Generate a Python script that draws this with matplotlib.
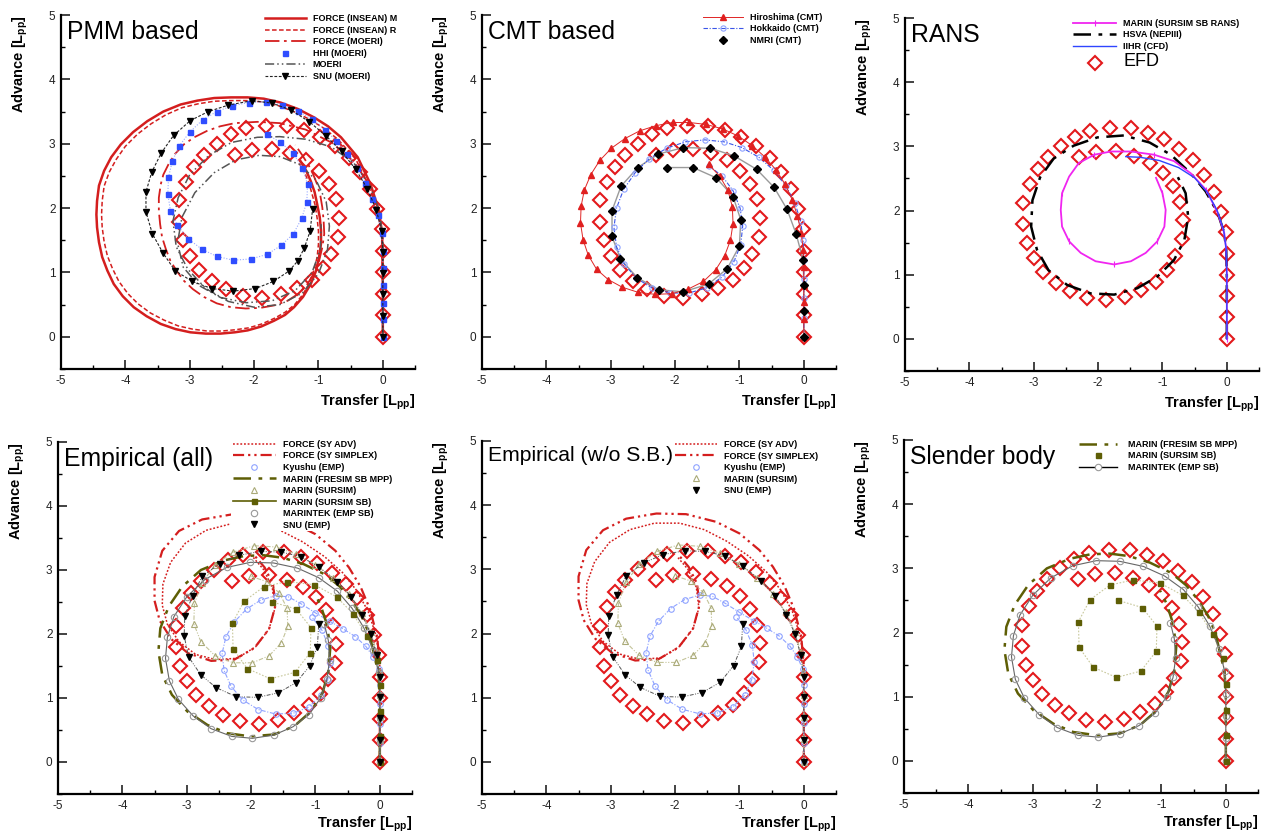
import numpy as np
import matplotlib
matplotlib.use("Agg")
import matplotlib.pyplot as plt
from matplotlib.lines import Line2D
from matplotlib.ticker import MultipleLocator

plt.rcParams['font.family'] = ['Liberation Sans', 'DejaVu Sans']
plt.rcParams['mathtext.fontset'] = 'custom'
plt.rcParams['mathtext.rm'] = 'Liberation Sans'
plt.rcParams['mathtext.bf'] = 'Liberation Sans:bold'
plt.rcParams['mathtext.it'] = 'Liberation Sans:italic'
plt.rcParams['axes.unicode_minus'] = False

# ---------------------------------------------------------------------------
# Turning-circle trajectories (transfer, advance) in ship lengths
# ---------------------------------------------------------------------------
EFD = [(0.00, 0.00), (0.00, 0.34), (0.00, 0.67), (0.00, 1.00), (0.00, 1.33), (-0.02, 1.67),
       (-0.09, 1.98), (-0.20, 2.29), (-0.36, 2.56), (-0.53, 2.78), (-0.74, 2.96), (-0.98, 3.11),
       (-1.22, 3.21), (-1.49, 3.28), (-1.81, 3.28), (-2.12, 3.24), (-2.36, 3.15), (-2.58, 3.00),
       (-2.78, 2.83), (-2.94, 2.64), (-3.06, 2.41), (-3.16, 2.12), (-3.16, 1.79), (-3.11, 1.50),
       (-3.00, 1.26), (-2.85, 1.04), (-2.66, 0.87), (-2.44, 0.74), (-2.18, 0.64), (-1.87, 0.60),
       (-1.58, 0.66), (-1.33, 0.76), (-1.10, 0.89), (-0.93, 1.07), (-0.80, 1.29), (-0.70, 1.55),
       (-0.68, 1.85), (-0.72, 2.14), (-0.84, 2.38), (-0.99, 2.58), (-1.20, 2.74), (-1.44, 2.85),
       (-1.72, 2.92), (-2.03, 2.91), (-2.30, 2.83)]

# PMM based
FORCE_INSEAN_M = [(0, 0), (0, 0.8), (-0.01, 1.6), (-0.06, 1.96), (-0.19, 2.37), (-0.39, 2.79),
                  (-0.65, 3.10), (-0.85, 3.27), (-1.07, 3.41), (-1.32, 3.54), (-1.59, 3.64),
                  (-1.85, 3.70), (-2.10, 3.72), (-2.36, 3.72), (-2.62, 3.71), (-2.88, 3.67),
                  (-3.14, 3.61), (-3.41, 3.50), (-3.66, 3.35), (-3.88, 3.18), (-4.07, 2.99),
                  (-4.22, 2.79), (-4.33, 2.58), (-4.41, 2.35), (-4.44, 2.11), (-4.45, 1.90),
                  (-4.44, 1.70), (-4.41, 1.47), (-4.36, 1.24), (-4.28, 1.03), (-4.18, 0.82),
                  (-4.04, 0.63), (-3.87, 0.46), (-3.67, 0.32), (-3.45, 0.20), (-3.22, 0.12),
                  (-2.99, 0.07), (-2.75, 0.05), (-2.52, 0.05), (-2.30, 0.07), (-2.10, 0.10),
                  (-1.89, 0.16), (-1.69, 0.25), (-1.52, 0.34), (-1.38, 0.46), (-1.24, 0.62),
                  (-1.12, 0.82), (-1.04, 1.02), (-0.99, 1.24), (-0.96, 1.45), (-0.96, 1.65),
                  (-0.98, 1.86), (-1.02, 2.06), (-1.06, 2.25), (-1.12, 2.42), (-1.19, 2.58),
                  (-1.28, 2.73)]
FORCE_INSEAN_R = [(0, 0), (0, 0.8), (-0.02, 1.6), (-0.08, 1.95), (-0.22, 2.35), (-0.42, 2.76),
                  (-0.70, 3.07), (-0.90, 3.23), (-1.12, 3.37), (-1.36, 3.49), (-1.62, 3.59),
                  (-1.87, 3.65), (-2.12, 3.67), (-2.37, 3.67), (-2.62, 3.66), (-2.87, 3.62),
                  (-3.12, 3.56), (-3.37, 3.45), (-3.60, 3.31), (-3.81, 3.15), (-4.00, 2.96),
                  (-4.14, 2.76), (-4.25, 2.56), (-4.33, 2.34), (-4.36, 2.11), (-4.37, 1.90),
                  (-4.36, 1.70), (-4.33, 1.48), (-4.28, 1.26), (-4.20, 1.06), (-4.10, 0.86),
                  (-3.96, 0.67), (-3.80, 0.51), (-3.61, 0.37), (-3.40, 0.26), (-3.18, 0.17),
                  (-2.96, 0.12), (-2.73, 0.09), (-2.50, 0.09), (-2.29, 0.11), (-2.08, 0.14),
                  (-1.88, 0.20), (-1.68, 0.29), (-1.52, 0.38), (-1.37, 0.50), (-1.24, 0.66),
                  (-1.14, 0.84), (-1.07, 1.04), (-1.02, 1.24), (-1.00, 1.44), (-1.00, 1.64),
                  (-1.02, 1.84), (-1.05, 2.04), (-1.10, 2.22), (-1.15, 2.40), (-1.22, 2.56),
                  (-1.30, 2.70)]
FORCE_MOERI = [(0, 0), (0, 0.8), (0, 1.5), (-0.06, 1.95), (-0.20, 2.35), (-0.45, 2.72),
               (-0.80, 3.02), (-1.20, 3.22), (-1.60, 3.32), (-1.95, 3.34), (-2.30, 3.32),
               (-2.53, 3.27), (-2.73, 3.20), (-2.93, 3.10), (-3.09, 2.99), (-3.23, 2.84),
               (-3.33, 2.68), (-3.41, 2.52), (-3.45, 2.37), (-3.48, 2.16), (-3.48, 1.96),
               (-3.46, 1.75), (-3.43, 1.55), (-3.37, 1.36), (-3.30, 1.18), (-3.20, 1.02),
               (-3.09, 0.87), (-2.95, 0.74), (-2.78, 0.62), (-2.58, 0.52), (-2.36, 0.46),
               (-2.13, 0.44), (-1.90, 0.45), (-1.68, 0.49), (-1.48, 0.56), (-1.31, 0.67),
               (-1.17, 0.82), (-1.07, 0.99), (-0.99, 1.18), (-0.94, 1.39), (-0.91, 1.60),
               (-0.92, 1.81), (-0.94, 2.01), (-0.97, 2.19), (-1.02, 2.37), (-1.08, 2.52),
               (-1.15, 2.66), (-1.25, 2.82), (-1.36, 2.98)]
HHI_MOERI = [(0, 0), (0, 0.27), (0, 0.53), (0, 0.80), (0, 1.07), (0, 1.34), (-0.02, 1.62),
             (-0.08, 1.89), (-0.17, 2.14), (-0.27, 2.39), (-0.40, 2.62), (-0.55, 2.84),
             (-0.72, 3.04), (-0.90, 3.22), (-1.10, 3.38), (-1.32, 3.51), (-1.56, 3.60),
             (-1.82, 3.65), (-2.08, 3.64), (-2.34, 3.59), (-2.58, 3.50), (-2.80, 3.37),
             (-3.00, 3.18), (-3.16, 2.97), (-3.27, 2.73), (-3.33, 2.48), (-3.34, 2.22),
             (-3.30, 1.96), (-3.19, 1.73), (-3.02, 1.52), (-2.81, 1.36), (-2.58, 1.25),
             (-2.32, 1.19), (-2.05, 1.21), (-1.80, 1.28), (-1.58, 1.42), (-1.39, 1.60),
             (-1.26, 1.84), (-1.18, 2.10), (-1.17, 2.37), (-1.25, 2.63), (-1.40, 2.86),
             (-1.59, 3.02), (-1.80, 3.15)]
MOERI = [(0, 0), (0, 0.8), (0, 1.5), (-0.05, 1.95), (-0.20, 2.35), (-0.45, 2.70), (-0.80, 2.95),
         (-1.20, 3.07), (-1.60, 3.11), (-1.95, 3.10), (-2.35, 3.02), (-2.70, 2.82), (-3.00, 2.52),
         (-3.18, 2.16), (-3.26, 1.80), (-3.21, 1.40), (-3.03, 1.05), (-2.75, 0.75), (-2.40, 0.55),
         (-2.00, 0.46), (-1.60, 0.50), (-1.25, 0.68), (-1.00, 0.98), (-0.86, 1.35), (-0.83, 1.72),
         (-0.88, 2.10), (-1.04, 2.44), (-1.30, 2.68), (-1.60, 2.80), (-1.92, 2.82), (-2.28, 2.75),
         (-2.62, 2.55), (-2.92, 2.24), (-3.12, 1.86), (-3.19, 1.46), (-3.10, 1.08), (-2.86, 0.80),
         (-2.52, 0.61), (-2.12, 0.53), (-1.72, 0.56), (-1.36, 0.72), (-1.10, 1.00), (-0.97, 1.36),
         (-0.96, 1.75)]
SNU_MOERI = [(0, 0), (0, 0.33), (0, 0.66), (0, 0.99), (0, 1.32), (-0.02, 1.65), (-0.10, 1.97),
             (-0.24, 2.30), (-0.42, 2.60), (-0.64, 2.88), (-0.88, 3.12), (-1.14, 3.34),
             (-1.42, 3.52), (-1.72, 3.63), (-2.03, 3.67), (-2.40, 3.60), (-2.71, 3.50),
             (-2.99, 3.36), (-3.25, 3.13), (-3.44, 2.86), (-3.59, 2.56), (-3.68, 2.25),
             (-3.68, 1.94), (-3.58, 1.60), (-3.42, 1.31), (-3.23, 1.03), (-2.96, 0.86),
             (-2.66, 0.75), (-2.32, 0.71), (-1.98, 0.75), (-1.70, 0.86), (-1.46, 1.02),
             (-1.32, 1.18), (-1.22, 1.38), (-1.13, 1.64), (-1.09, 1.99)]

# CMT based
HIROSHIMA = [(0, 0), (0, 0.27), (0, 0.54), (0, 0.81), (0, 1.08), (-0.01, 1.35), (-0.04, 1.62),
             (-0.10, 1.88), (-0.18, 2.13), (-0.29, 2.37), (-0.43, 2.59), (-0.60, 2.79),
             (-0.80, 2.97), (-1.02, 3.12), (-1.26, 3.23), (-1.52, 3.30), (-1.78, 3.33),
             (-2.04, 3.33), (-2.30, 3.28), (-2.55, 3.20), (-2.78, 3.08), (-2.99, 2.93),
             (-3.17, 2.74), (-3.31, 2.52), (-3.41, 2.28), (-3.46, 2.03), (-3.47, 1.77),
             (-3.43, 1.51), (-3.35, 1.27), (-3.22, 1.05), (-3.04, 0.89), (-2.82, 0.77),
             (-2.57, 0.69), (-2.31, 0.66), (-2.05, 0.67), (-1.80, 0.74), (-1.56, 0.86),
             (-1.37, 1.04), (-1.23, 1.26), (-1.14, 1.50), (-1.10, 1.76), (-1.11, 2.02),
             (-1.18, 2.28), (-1.31, 2.50), (-1.48, 2.68)]
HOKKAIDO = [(0, 0), (0, 0.3), (0, 0.6), (0, 0.9), (0, 1.2), (-0.01, 1.5), (-0.05, 1.8),
            (-0.14, 2.08), (-0.28, 2.35), (-0.47, 2.59), (-0.70, 2.79), (-0.96, 2.94),
            (-1.24, 3.03), (-1.54, 3.06), (-1.84, 3.03), (-2.13, 2.93), (-2.40, 2.77),
            (-2.62, 2.55), (-2.80, 2.29), (-2.91, 2.00), (-2.95, 1.70), (-2.91, 1.40),
            (-2.79, 1.13), (-2.60, 0.91), (-2.36, 0.76), (-2.08, 0.68), (-1.79, 0.68),
            (-1.51, 0.76), (-1.27, 0.93), (-1.09, 1.16), (-0.98, 1.43), (-0.95, 1.72),
            (-0.99, 2.00), (-1.10, 2.27), (-1.27, 2.50), (-1.48, 2.66)]
NMRI = [(0, 0), (0, 0.40), (0, 0.80), (-0.01, 1.19), (-0.12, 1.60), (-0.26, 1.98), (-0.46, 2.32),
        (-0.73, 2.60), (-1.08, 2.81), (-1.45, 2.93), (-1.87, 2.94), (-2.26, 2.84), (-2.58, 2.63),
        (-2.84, 2.34), (-2.98, 1.96), (-2.98, 1.56), (-2.85, 1.21), (-2.59, 0.92), (-2.25, 0.73),
        (-1.87, 0.70), (-1.48, 0.82), (-1.19, 1.06), (-1.00, 1.41), (-0.98, 1.82), (-1.10, 2.18),
        (-1.36, 2.47), (-1.72, 2.63), (-2.12, 2.63)]

# RANS
MARIN_RANS = [(0, 0), (0, 0.5), (0, 1.0), (-0.01, 1.40), (-0.04, 1.65), (-0.14, 1.96),
              (-0.32, 2.32), (-0.56, 2.58), (-0.82, 2.77), (-1.13, 2.87), (-1.49, 2.92),
              (-1.80, 2.92), (-2.06, 2.87), (-2.30, 2.74), (-2.45, 2.53), (-2.56, 2.27),
              (-2.58, 2.01), (-2.56, 1.75), (-2.45, 1.52), (-2.27, 1.34), (-2.04, 1.21),
              (-1.75, 1.16), (-1.49, 1.21), (-1.26, 1.34), (-1.08, 1.52), (-0.97, 1.75),
              (-0.95, 2.01), (-1.00, 2.27), (-1.10, 2.51)]
HSVA = [(0, 0), (0, 0.5), (0, 1.0), (-0.01, 1.40), (-0.04, 1.65), (-0.14, 1.96), (-0.33, 2.30),
        (-0.56, 2.58), (-0.87, 2.87), (-1.20, 3.06), (-1.60, 3.17), (-2.01, 3.14), (-2.38, 3.01),
        (-2.69, 2.81), (-2.90, 2.52), (-3.02, 2.16), (-3.04, 1.75), (-2.95, 1.39), (-2.77, 1.07),
        (-2.48, 0.84), (-2.12, 0.71), (-1.75, 0.69), (-1.39, 0.79), (-1.08, 0.97), (-0.82, 1.23),
        (-0.66, 1.54), (-0.60, 1.90), (-0.64, 2.27), (-0.76, 2.52)]
IIHR = [(0, 0), (0, 0.5), (0, 1.0), (-0.01, 1.40), (-0.05, 1.70), (-0.15, 2.00), (-0.30, 2.28),
        (-0.50, 2.51), (-0.75, 2.67), (-1.05, 2.78), (-1.35, 2.83), (-1.57, 2.84)]

# Empirical / slender body
FORCE_SY_ADV = [(0, 0), (0, 0.8), (0, 1.5), (-0.05, 1.95), (-0.18, 2.35), (-0.36, 2.68),
                (-0.58, 2.96), (-0.86, 3.21), (-1.20, 3.44), (-1.55, 3.62), (-1.93, 3.72),
                (-2.32, 3.72), (-2.70, 3.62), (-3.02, 3.42), (-3.25, 3.12), (-3.37, 2.78),
                (-3.38, 2.45), (-3.30, 2.15), (-3.12, 1.88), (-2.86, 1.68), (-2.55, 1.60),
                (-2.22, 1.62), (-1.93, 1.80), (-1.72, 2.08), (-1.63, 2.40), (-1.67, 2.72),
                (-1.80, 3.00), (-1.97, 3.20)]
FORCE_SY_SIMPLEX = [(0, 0), (0, 0.8), (0, 1.5), (-0.04, 1.95), (-0.15, 2.38), (-0.30, 2.74),
                    (-0.48, 3.04), (-0.69, 3.30), (-1.00, 3.56), (-1.36, 3.74), (-1.83, 3.86),
                    (-2.29, 3.87), (-2.76, 3.79), (-3.12, 3.61), (-3.38, 3.30), (-3.50, 2.89),
                    (-3.50, 2.52), (-3.42, 2.21), (-3.24, 1.92), (-2.98, 1.70), (-2.62, 1.58),
                    (-2.26, 1.60), (-1.95, 1.78), (-1.72, 2.08), (-1.62, 2.45), (-1.66, 2.78),
                    (-1.79, 3.04), (-1.96, 3.24)]
KYUSHU = [(0, 0), (0, 0.3), (0, 0.6), (0, 0.9), (0, 1.2), (-0.02, 1.45), (-0.10, 1.64),
          (-0.22, 1.81), (-0.38, 1.96), (-0.57, 2.08), (-0.78, 2.20), (-1.00, 2.33),
          (-1.22, 2.47), (-1.42, 2.58), (-1.62, 2.60), (-1.85, 2.53), (-2.07, 2.39),
          (-2.26, 2.19), (-2.39, 1.96), (-2.45, 1.70), (-2.42, 1.43), (-2.31, 1.18),
          (-2.13, 0.97), (-1.89, 0.82), (-1.62, 0.75), (-1.35, 0.76), (-1.10, 0.86),
          (-0.92, 1.04), (-0.81, 1.28), (-0.77, 1.55), (-0.80, 1.82), (-0.90, 2.06),
          (-1.05, 2.26)]
MARIN_FRESIM = [(0, 0), (0, 0.5), (0, 1.0), (-0.02, 1.40), (-0.09, 1.68), (-0.16, 1.99),
                (-0.28, 2.27), (-0.44, 2.52), (-0.62, 2.74), (-0.85, 2.93), (-1.18, 3.09),
                (-1.50, 3.19), (-1.80, 3.23), (-2.10, 3.22), (-2.42, 3.15), (-2.78, 3.00),
                (-3.07, 2.74), (-3.28, 2.43), (-3.41, 2.09), (-3.44, 1.73), (-3.38, 1.36),
                (-3.23, 1.05), (-2.99, 0.79), (-2.68, 0.58), (-2.37, 0.45), (-2.01, 0.40),
                (-1.64, 0.43), (-1.33, 0.56), (-1.07, 0.79), (-0.89, 1.08), (-0.80, 1.41),
                (-0.77, 1.78), (-0.82, 2.14), (-0.92, 2.45), (-1.02, 2.65)]
MARIN_SURSIM = [(0, 0), (0, 0.35), (0, 0.7), (0, 1.05), (-0.01, 1.4), (-0.05, 1.72),
                (-0.14, 2.03), (-0.28, 2.33), (-0.48, 2.62), (-0.72, 2.87), (-1.00, 3.08),
                (-1.30, 3.25), (-1.62, 3.36), (-1.95, 3.38), (-2.28, 3.28), (-2.56, 3.08),
                (-2.76, 2.80), (-2.88, 2.48), (-2.89, 2.16), (-2.78, 1.88), (-2.56, 1.66),
                (-2.28, 1.55), (-1.98, 1.55), (-1.72, 1.66), (-1.53, 1.86), (-1.43, 2.12),
                (-1.44, 2.40), (-1.56, 2.64), (-1.76, 2.82), (-2.00, 2.90)]
MARIN_SURSIM_SB = [(0, 0), (0, 0.40), (0, 0.80), (0, 1.20), (-0.05, 1.60), (-0.20, 1.97),
                   (-0.42, 2.32), (-0.67, 2.58), (-1.02, 2.77), (-1.44, 2.82), (-1.80, 2.74),
                   (-2.11, 2.51), (-2.29, 2.17), (-2.28, 1.77), (-2.06, 1.46), (-1.70, 1.30),
                   (-1.32, 1.40), (-1.08, 1.71), (-1.07, 2.10), (-1.30, 2.39), (-1.67, 2.50)]
MARINTEK = [(0, 0), (0, 0.35), (0, 0.70), (0, 1.05), (-0.02, 1.40), (-0.10, 1.75), (-0.25, 2.10),
            (-0.43, 2.40), (-0.66, 2.67), (-0.95, 2.88), (-1.28, 3.03), (-1.65, 3.11),
            (-2.01, 3.12), (-2.38, 3.04), (-2.72, 2.85), (-3.00, 2.58), (-3.20, 2.27),
            (-3.30, 1.95), (-3.33, 1.62), (-3.27, 1.27), (-3.13, 0.98), (-2.90, 0.72),
            (-2.62, 0.52), (-2.30, 0.40), (-1.98, 0.37), (-1.65, 0.42), (-1.35, 0.55),
            (-1.10, 0.74), (-0.92, 1.00), (-0.82, 1.30), (-0.78, 1.60), (-0.80, 1.90),
            (-0.86, 2.15)]
SNU_EMP = [(0, 0), (0, 0.34), (0, 0.68), (0, 1.01), (0, 1.33), (-0.05, 1.67), (-0.14, 2.00),
           (-0.27, 2.29), (-0.44, 2.58), (-0.66, 2.82), (-0.95, 3.05), (-1.23, 3.21),
           (-1.53, 3.28), (-1.85, 3.29), (-2.19, 3.23), (-2.49, 3.10), (-2.76, 2.90),
           (-2.91, 2.60), (-3.03, 2.28), (-3.04, 1.97), (-2.97, 1.64), (-2.78, 1.36),
           (-2.54, 1.16), (-2.23, 1.02), (-1.90, 1.01), (-1.58, 1.08), (-1.30, 1.24),
           (-1.09, 1.50), (-0.97, 1.80), (-0.95, 2.15)]

PANEL_TITLES = ["PMM based", "CMT based", "RANS",
                "Empirical (all)", "Empirical (w/o S.B.)", "Slender body"]

# ---------------------------------------------------------------------------
# Styles
# ---------------------------------------------------------------------------
RED_EFD = '#e3191c'
RED = '#d41e1e'
OLIVE = '#5e5e05'
PALE_OLIVE = '#aaaa78'
LIGHT_BLUE = '#8fa3ff'

S = {
    'efd': dict(ls='none', marker='D', ms=6.8, mfc='none', mec=RED_EFD, mew=1.5),
    'insean_m': dict(color=RED, lw=1.8, ls='-'),
    'insean_r': dict(color=RED, lw=1.1, ls=(0, (3, 1.6))),
    'force_moeri': dict(color=RED, lw=1.3, ls=(0, (8, 2.5, 1.5, 2.5))),
    'hhi_line': dict(color='#9aaaff', lw=0.8, ls=(0, (1, 1.5))),
    'hhi_mk': dict(ls='none', marker='s', ms=3.6, color='#2f4dff', mec='#2f4dff'),
    'moeri': dict(color='#555555', lw=1.1, ls=(0, (6, 2, 1, 2, 1, 2))),
    'snu_moeri': dict(color='#222222', lw=0.8, ls=(0, (2.5, 1.5)), marker='v', ms=4.5,
                      mfc='k', mec='k'),
    'hiro': dict(color='#e02525', lw=0.7, ls='-', marker='^', ms=4.2, mfc='#e02020',
                 mec='#e02020'),
    'hokk': dict(color='#3a55e8', lw=0.8, ls=(0, (4, 1.5, 1, 1.5)), marker='o', ms=3.8,
                 mfc='none', mec=LIGHT_BLUE, mew=0.8),
    'nmri_line': dict(color='#9a9a9a', lw=1.0, ls='-'),
    'nmri_mk': dict(ls='none', marker='D', ms=3.8, color='k'),
    'rans': dict(color='#f025f0', lw=1.3, ls='-', marker='|', ms=4, mew=0.8, markevery=3),
    'hsva': dict(color='k', lw=1.8, ls=(0, (7, 3, 1.5, 3))),
    'iihr': dict(color='#2f45ff', lw=1.0, ls='-'),
    'sy_adv': dict(color=RED, lw=1.1, ls=(0, (1.2, 1.2))),
    'sy_simplex': dict(color=RED, lw=1.6, ls=(0, (5, 1.8, 1, 1.8, 1, 1.8))),
    'kyushu_line': dict(color=LIGHT_BLUE, lw=0.8, ls=(0, (4, 1.5, 1, 1.5))),
    'kyushu_mk': dict(ls='none', marker='o', ms=4, mfc='none', mec=LIGHT_BLUE, mew=0.8),
    'fresim': dict(color=OLIVE, lw=1.8, ls=(0, (7, 3, 1.5, 3))),
    'sursim_line': dict(color='#c4c49a', lw=0.8, ls=(0, (4, 1.5, 1, 1.5, 1, 1.5))),
    'sursim_mk': dict(ls='none', marker='^', ms=4.8, mfc='none', mec=PALE_OLIVE, mew=0.8),
    'sursim_sb_line': dict(color='#c8c89c', lw=0.8, ls=(0, (1.5, 1.5))),
    'sursim_sb_mk': dict(ls='none', marker='s', ms=3.6, color=OLIVE),
    'marintek_line': dict(color='#666666', lw=0.8, ls='-'),
    'marintek_mk': dict(ls='none', marker='o', ms=4.6, mfc='none', mec='#999999', mew=0.8),
    'snu_emp_line': dict(color='#555555', lw=0.7, ls=(0, (4, 1.5, 1, 1.5, 1, 1.5))),
    'snu_emp_mk': dict(ls='none', marker='v', ms=4.5, color='k'),
}

W, H = 1262, 834
fig = plt.figure(figsize=(W / 100, H / 100), dpi=100)
LEG_FS = 6.5


def axes_px(left, top, right, bottom):
    return fig.add_axes([left / W, 1 - bottom / H, (right - left) / W, (bottom - top) / H])


def setup(ax, title, xlab_y=-0.068, title_fs=17.8):
    ax.set_xlim(-5, 0.5)
    ax.set_ylim(-0.5, 5)
    for s in ('top', 'right'):
        ax.spines[s].set_visible(False)
    for s in ('left', 'bottom'):
        ax.spines[s].set_linewidth(1.6)
    ax.set_xticks(range(-5, 1))
    ax.set_yticks(range(0, 6))
    ax.xaxis.set_minor_locator(MultipleLocator(0.5))
    ax.yaxis.set_minor_locator(MultipleLocator(0.5))
    ax.tick_params(which='major', direction='in', length=6.5, width=1.2, labelsize=8.5,
                   pad=4, colors='#222222')
    ax.tick_params(which='minor', direction='in', length=3, width=1.0)
    ax.set_xlabel(r'Transfer [L$_{\mathbf{pp}}$]', fontsize=10.5, fontweight='bold', loc='right')
    ax.xaxis.set_label_coords(1.0, xlab_y)
    ax.set_ylabel(r'Advance [L$_{\mathbf{pp}}$]', fontsize=10.5, fontweight='bold', loc='top')
    ax.yaxis.set_label_coords(-0.087, 1.0)
    ax.text(0.016, 0.986, title, transform=ax.transAxes, fontsize=title_fs, va='top',
            ha='left', zorder=30)


def draw(ax, pts, key, **extra):
    x, y = zip(*pts)
    kw = dict(S[key])
    kw.update(extra)
    ax.plot(x, y, **kw)


def handle(key):
    kw = {k: v for k, v in S[key].items() if k != 'markevery'}
    return Line2D([], [], **kw)


def legend(ax, entries, x_left, y_top, hlen_px=42, tpad_px=7):
    em = LEG_FS * 100 / 72
    hs = [e[0] for e in entries]
    ls = [e[1] for e in entries]
    leg = ax.legend(hs, ls, loc='upper left', bbox_to_anchor=(x_left, y_top),
                    bbox_transform=ax.transAxes, frameon=True, fancybox=False,
                    facecolor='white', edgecolor='none', framealpha=1.0, borderpad=0.2,
                    borderaxespad=0.0, handlelength=hlen_px / em, handletextpad=tpad_px / em,
                    labelspacing=0.28, numpoints=1, prop={'weight': 'bold', 'size': LEG_FS})
    leg.set_zorder(20)
    return leg


def efd(ax):
    draw(ax, EFD, 'efd', zorder=2)


# ---------------------------------------------------------------------------
# Panel 1: PMM based
# ---------------------------------------------------------------------------
ax1 = axes_px(61, 15, 415, 369)
setup(ax1, PANEL_TITLES[0])
efd(ax1)
draw(ax1, FORCE_INSEAN_M, 'insean_m', zorder=3)
draw(ax1, FORCE_INSEAN_R, 'insean_r', zorder=3)
draw(ax1, FORCE_MOERI, 'force_moeri', zorder=3)
draw(ax1, HHI_MOERI, 'hhi_line', zorder=3)
draw(ax1, HHI_MOERI, 'hhi_mk', zorder=4)
draw(ax1, MOERI, 'moeri', zorder=3)
draw(ax1, SNU_MOERI, 'snu_moeri', zorder=4)
legend(ax1, [(handle('insean_m'), 'FORCE (INSEAN) M'),
             (handle('insean_r'), 'FORCE (INSEAN) R'),
             (handle('force_moeri'), 'FORCE (MOERI)'),
             (handle('hhi_mk'), 'HHI (MOERI)'),
             (handle('moeri'), 'MOERI'),
             (handle('snu_moeri'), 'SNU (MOERI)')], 0.570, 1.007, hlen_px=41, tpad_px=7)

# ---------------------------------------------------------------------------
# Panel 2: CMT based
# ---------------------------------------------------------------------------
ax2 = axes_px(482, 15, 836, 369)
setup(ax2, PANEL_TITLES[1])
efd(ax2)
draw(ax2, NMRI, 'nmri_line', zorder=3)
draw(ax2, HOKKAIDO, 'hokk', zorder=3)
draw(ax2, HIROSHIMA, 'hiro', zorder=4)
draw(ax2, NMRI, 'nmri_mk', zorder=5)
legend(ax2, [(handle('hiro'), 'Hiroshima (CMT)'),
             (handle('hokk'), 'Hokkaido (CMT)'),
             (handle('nmri_mk'), 'NMRI (CMT)')], 0.620, 1.011, hlen_px=40, tpad_px=7)

# ---------------------------------------------------------------------------
# Panel 3: RANS
# ---------------------------------------------------------------------------
ax3 = axes_px(905, 18, 1259, 371)
setup(ax3, PANEL_TITLES[2])
efd(ax3)
draw(ax3, HSVA, 'hsva', zorder=3)
draw(ax3, MARIN_RANS, 'rans', zorder=3)
draw(ax3, IIHR, 'iihr', zorder=4)
leg3 = legend(ax3, [(handle('rans'), 'MARIN (SURSIM SB RANS)'),
                    (handle('hsva'), 'HSVA (NEPIII)'),
                    (handle('iihr'), 'IIHR (CFD)'),
                    (handle('efd'), 'EFD')], 0.470, 1.003, hlen_px=43, tpad_px=7)
leg3.get_texts()[3].set_fontsize(13)
leg3.get_texts()[3].set_fontweight('normal')

# ---------------------------------------------------------------------------
# Panel 4: Empirical (all)
# ---------------------------------------------------------------------------
ax4 = axes_px(58, 442, 412, 794)
setup(ax4, PANEL_TITLES[3], xlab_y=-0.058)
efd(ax4)
draw(ax4, FORCE_SY_ADV, 'sy_adv', zorder=3)
draw(ax4, FORCE_SY_SIMPLEX, 'sy_simplex', zorder=3)
draw(ax4, KYUSHU, 'kyushu_line', zorder=3)
draw(ax4, KYUSHU, 'kyushu_mk', zorder=3)
draw(ax4, MARIN_FRESIM, 'fresim', zorder=3)
draw(ax4, MARIN_SURSIM, 'sursim_line', zorder=3)
draw(ax4, MARIN_SURSIM, 'sursim_mk', zorder=3)
draw(ax4, MARIN_SURSIM_SB, 'sursim_sb_line', zorder=3)
draw(ax4, MARIN_SURSIM_SB, 'sursim_sb_mk', zorder=4)
draw(ax4, MARINTEK, 'marintek_line', zorder=3)
draw(ax4, MARINTEK, 'marintek_mk', zorder=3)
draw(ax4, SNU_EMP, 'snu_emp_line', zorder=3)
draw(ax4, SNU_EMP, 'snu_emp_mk', zorder=4)
sb_handle = Line2D([], [], color=OLIVE, lw=1.2, ls='-', marker='s', ms=3.6)
legend(ax4, [(handle('sy_adv'), 'FORCE (SY ADV)'),
             (handle('sy_simplex'), 'FORCE (SY SIMPLEX)'),
             (handle('kyushu_mk'), 'Kyushu (EMP)'),
             (handle('fresim'), 'MARIN (FRESIM SB MPP)'),
             (handle('sursim_mk'), 'MARIN (SURSIM)'),
             (sb_handle, 'MARIN (SURSIM SB)'),
             (handle('marintek_mk'), 'MARINTEK (EMP SB)'),
             (handle('snu_emp_mk'), 'SNU (EMP)')], 0.489, 1.011, hlen_px=43, tpad_px=7)

# ---------------------------------------------------------------------------
# Panel 5: Empirical without slender body
# ---------------------------------------------------------------------------
ax5 = axes_px(482, 441, 836, 794)
setup(ax5, PANEL_TITLES[4], xlab_y=-0.058, title_fs=15.2)
efd(ax5)
draw(ax5, FORCE_SY_ADV, 'sy_adv', zorder=3)
draw(ax5, FORCE_SY_SIMPLEX, 'sy_simplex', zorder=3)
draw(ax5, KYUSHU, 'kyushu_line', zorder=3)
draw(ax5, KYUSHU, 'kyushu_mk', zorder=3)
draw(ax5, MARIN_SURSIM, 'sursim_line', zorder=3)
draw(ax5, MARIN_SURSIM, 'sursim_mk', zorder=3)
draw(ax5, SNU_EMP, 'snu_emp_line', zorder=3)
draw(ax5, SNU_EMP, 'snu_emp_mk', zorder=4)
legend(ax5, [(handle('sy_adv'), 'FORCE (SY ADV)'),
             (handle('sy_simplex'), 'FORCE (SY SIMPLEX)'),
             (handle('kyushu_mk'), 'Kyushu (EMP)'),
             (handle('sursim_mk'), 'MARIN (SURSIM)'),
             (handle('snu_emp_mk'), 'SNU (EMP)')], 0.540, 1.008, hlen_px=42, tpad_px=7)

# ---------------------------------------------------------------------------
# Panel 6: Slender body
# ---------------------------------------------------------------------------
ax6 = axes_px(904, 440, 1258, 793)
setup(ax6, PANEL_TITLES[5], xlab_y=-0.058)
efd(ax6)
draw(ax6, MARIN_FRESIM, 'fresim', zorder=3)
draw(ax6, MARIN_SURSIM_SB, 'sursim_sb_line', zorder=3)
draw(ax6, MARIN_SURSIM_SB, 'sursim_sb_mk', zorder=4)
draw(ax6, MARINTEK, 'marintek_line', zorder=3)
draw(ax6, MARINTEK, 'marintek_mk', zorder=3)
mt_handle = Line2D([], [], color='k', lw=1.0, ls='-', marker='o', ms=4.6, mfc='white',
                   mec='#999999', mew=0.8)
legend(ax6, [(handle('fresim'), 'MARIN (FRESIM SB MPP)'),
             (handle('sursim_sb_mk'), 'MARIN (SURSIM SB)'),
             (mt_handle, 'MARINTEK (EMP SB)')], 0.489, 1.006, hlen_px=38, tpad_px=11)

fig.savefig('out.png', dpi=100, facecolor='white')
